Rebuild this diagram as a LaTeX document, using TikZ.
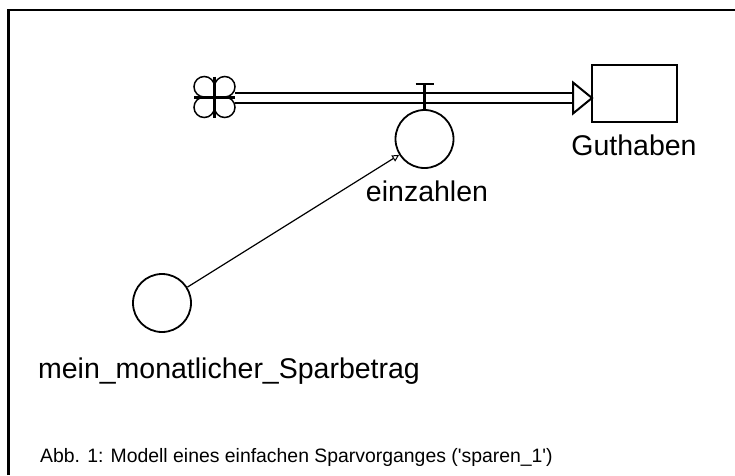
\documentclass[tikz,border=0pt]{standalone}
\usepackage{fontspec}
\setmainfont{Liberation Sans}
\usetikzlibrary{arrows.meta,calc}
\begin{document}
\begin{tikzpicture}[x=1pt,y=-1pt,
  lbl/.style={font=\fontsize{28.5}{30}\selectfont, inner sep=0pt, anchor=base},
  capt/.style={font=\fontsize{19.4}{22}\selectfont, inner sep=0pt, anchor=base west},
  var/.style={circle, draw, line width=1.8pt, minimum size=58pt, inner sep=0pt},
  stockbox/.style={draw, line width=2pt, minimum width=85pt, minimum height=57pt, inner sep=0pt},
  pipe/.style={line width=2.2pt},
  conn/.style={line width=1.2pt, -{Triangle[open, length=7pt, width=7pt, line width=1pt]}}]
\useasboundingbox (0,0) rectangle (735,475);
% frame
\draw[line width=2.5pt] (8.5,475) -- (8.5,10) -- (735,10);
% cloud
\coordinate (cl) at (214.5,97);
\begin{scope}[line width=1.5pt]
\draw ($(cl)+(-10.25,-10.25)$) ++(0:10.25) arc[start angle=0,end angle=-270,radius=10.25];
\draw ($(cl)+(10.25,-10.25)$) ++(90:10.25) arc[start angle=90,end angle=-180,radius=10.25];
\draw ($(cl)+(10.25,10.25)$) ++(180:10.25) arc[start angle=180,end angle=-90,radius=10.25];
\draw ($(cl)+(-10.25,10.25)$) ++(270:10.25) arc[start angle=270,end angle=0,radius=10.25];
\end{scope}
\draw[line width=3pt] ($(cl)+(-20.5,0)$) -- ($(cl)+(20.5,0)$);
\draw[line width=3pt] ($(cl)+(0,-20.5)$) -- ($(cl)+(0,20.5)$);
\coordinate (pstart) at (235,98);
\coordinate (pend) at (573,98);
% pipe
\draw[pipe] ($(pstart)+(0,-5)$) -- ($(pend)+(0,-5)$);
\draw[pipe] ($(pstart)+(0,5)$) -- ($(pend)+(0,5)$);
% arrow triangle
\draw[line width=2pt, fill=white, line join=miter] (573,82.5) -- (592,98) -- (573,113.5) -- cycle;
% stock
\node[stockbox] (stock) at (634.5,93.5) {};
\node[lbl] (guthaben) at (634,155) {Guthaben};
% valve
\node[var] (valve) at (424.5,139) {};
\draw[line width=2.2pt] (valve.north) -- (424.5,84);
\draw[line width=2.2pt] (415.5,84) -- (433.5,84);
\node[lbl] (einzahlen) at (427,201) {einzahlen};
% auxiliary
\node[var] (aux) at (162,303) {};
\node[lbl] (auxl) at (229,378) {mein\_monatlicher\_Sparbetrag};
\draw[conn] (aux) -- (valve);
% caption
\node[capt] (cap) at (40,462) {Abb. 1: Modell eines einfachen Sparvorganges (\textquotesingle sparen\_1\textquotesingle)};
\end{tikzpicture}
\end{document}
